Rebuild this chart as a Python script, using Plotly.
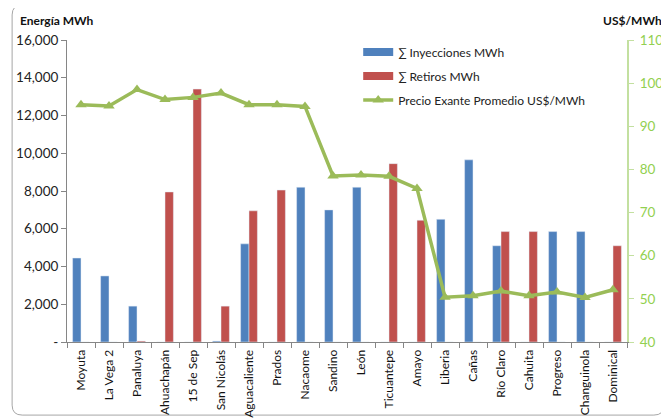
import plotly.graph_objects as go

categories = ["Moyuta", "La Vega 2", "Panaluya", "Ahuachapán", "15 de Sep", "San Nicolás",
              "Aguacaliente", "Prados", "Nacaome", "Sandino", "León", "Ticuantepe", "Amayo",
              "Liberia", "Cañas", "Río Claro", "Cahuita", "Progreso", "Changuinola", "Dominical"]
inyecciones = [4450, 3500, 1900, 0, 0, 50, 5200, 0, 8200, 7000, 8200, 0, 0,
               6500, 9650, 5100, 0, 5850, 5850, 0]
retiros = [0, 0, 50, 7950, 13400, 1900, 6950, 8050, 0, 0, 0, 9450, 6450,
           0, 0, 5850, 5850, 0, 0, 5100]
precio = [95.0, 94.7, 98.5, 96.2, 96.7, 97.7, 95.0, 95.0, 94.6, 78.5, 78.7, 78.4, 75.6,
          50.4, 50.7, 51.8, 50.7, 51.6, 50.3, 52.1]
left_ticks = [0, 2000, 4000, 6000, 8000, 10000, 12000, 14000, 16000]
left_labels = ["-", "2,000", "4,000", "6,000", "8,000", "10,000", "12,000", "14,000", "16,000"]
right_ticks = [40, 50, 60, 70, 80, 90, 100, 110]

FONT = "Lato"
BLUE, RED, GREEN = "#4F81BD", "#C0504D", "#9BBB59"
fig = go.Figure()
fig.add_trace(go.Bar(x=categories, y=inyecciones, name="∑ Inyecciones MWh",
                     marker=dict(color=BLUE), showlegend=False))
fig.add_trace(go.Bar(x=categories, y=retiros, name="∑ Retiros MWh",
                     marker=dict(color=RED), showlegend=False))
fig.add_trace(go.Scatter(x=categories, y=precio, name="Precio Exante Promedio US$/MWh",
                         yaxis="y2", mode="lines+markers", legend="legend3",
                         line=dict(color=GREEN, width=3.5),
                         marker=dict(symbol="triangle-up", size=10, color=GREEN)))
# legend-only entries drawn as wide rectangles like the original
fig.add_trace(go.Scatter(x=[None], y=[None], mode="lines", name="∑ Inyecciones MWh",
                         line=dict(color=BLUE, width=8), legend="legend", hoverinfo="skip"))
fig.add_trace(go.Scatter(x=[None], y=[None], mode="lines", name="∑ Retiros MWh",
                         line=dict(color=RED, width=8), legend="legend2", hoverinfo="skip"))

leg_common = dict(xanchor="left", yanchor="middle", bgcolor="rgba(255,255,255,0)",
                  font=dict(family=FONT, size=12, color="#222222"), itemwidth=30)

fig.update_layout(
    width=661, height=411,
    margin=dict(l=59, r=42, t=32, b=77, autoexpand=False),
    paper_bgcolor="white", plot_bgcolor="white",
    font=dict(family=FONT, size=12, color="#222222"),
    barmode="group", bargap=0.40, bargroupgap=0,
    xaxis=dict(type="category", tickangle=-90, showgrid=False, automargin=False,
               range=[-0.5, len(categories) - 0.5],
               showline=True, linecolor="#868686", linewidth=1,
               ticks="outside", tickson="boundaries", ticklen=5, tickcolor="#868686",
               ticklabelstandoff=2,
               tickfont=dict(family=FONT, size=12, color="#111111")),
    yaxis=dict(range=[0, 16000], tickvals=left_ticks, ticktext=left_labels, automargin=False,
               showgrid=False, zeroline=False, showline=True, linecolor="#868686",
               ticks="outside", ticklen=5, tickcolor="#868686",
               tickfont=dict(family=FONT, size=13.5, color="#222222")),
    yaxis2=dict(range=[40, 110], tickvals=right_ticks, overlaying="y", side="right",
                automargin=False,
                showgrid=False, zeroline=False, showline=True, linecolor="#C3E0A0",
                linewidth=2, ticks="outside", ticklen=5, tickcolor="#C3E0A0",
                ticklabelstandoff=3,
                tickfont=dict(family=FONT, size=13.5, color="#92D050")),
    legend=dict(x=0.52, y=0.960, **leg_common),
    legend2=dict(x=0.52, y=0.881, **leg_common),
    legend3=dict(x=0.52, y=0.801, **leg_common),
    showlegend=True,
    annotations=[
        dict(text="<b>Energía MWh</b>", xref="paper", yref="paper", x=-0.0875, y=1.066,
             xanchor="left", yanchor="middle", showarrow=False,
             font=dict(family=FONT, size=12, color="#111111")),
        dict(text="<b>US$/MWh</b>", xref="paper", yref="paper", x=1.066, y=1.066,
             xanchor="right", yanchor="middle", showarrow=False,
             font=dict(family=FONT, size=12, color="#111111")),
    ],
    shapes=[dict(type="path", xref="paper", yref="paper", layer="below",
                 path="M -0.098,1.083 Q -0.098,1.116 -0.080,1.116 L 1.048,1.116 Q 1.066,1.116 1.066,1.083 "
                      "L 1.066,-0.209 Q 1.066,-0.242 1.048,-0.242 L -0.080,-0.242 Q -0.098,-0.242 -0.098,-0.209 Z",
                 line=dict(color="#A6A6A6", width=1))],
)

fig.write_html("out.html")
